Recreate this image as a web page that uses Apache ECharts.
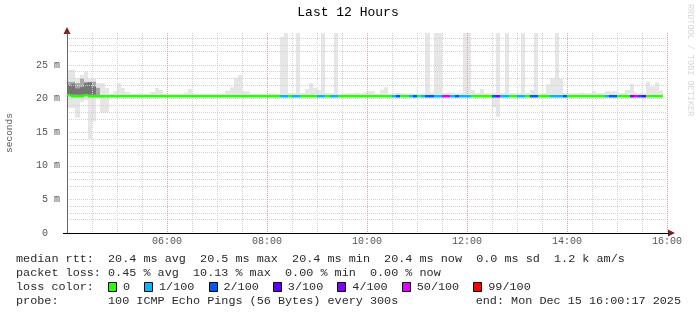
<!DOCTYPE html>
<html><head><meta charset="utf-8">
<script src="https://cdn.jsdelivr.net/npm/echarts@6/dist/echarts.min.js"></script>
<style>html,body{margin:0;padding:0;background:#fff}#c{width:697px;height:315px}</style>
</head><body><div id="c"></div>
<script>
// ---------------- data ----------------
const titleText = 'Last 12 Hours';
const yAxisName = 'seconds';
const xTickMinutes = [120, 240, 360, 480, 600, 720];           // minutes after 04:00
const xTickLabels  = ['06:00', '08:00', '10:00', '12:00', '14:00', '16:00'];
const yTickValues  = [0, 5, 10, 15, 20, 25];                     // ms
const yTickLabels  = ['0', '5 m', '10 m', '15 m', '20 m', '25 m'];
const STEP_MIN = 5;                                              // rrd step, minutes

// median rtt per 5-minute step (ms)
const median = [
 20.6,20.45,20.45,20.45,20.6,20.45,20.45,20.43,20.43,20.43,
 20.43,20.43,20.43,20.43,20.43,20.43,20.43,20.43,20.43,20.43,
 20.43,20.43,20.43,20.43,20.43,20.43,20.43,20.43,20.43,20.43,
 20.43,20.43,20.43,20.43,20.43,20.43,20.43,20.43,20.43,20.43,
 20.43,20.43,20.43,20.43,20.43,20.43,20.43,20.43,20.43,20.43,
 20.43,20.43,20.43,20.43,20.43,20.43,20.43,20.43,20.43,20.43,
 20.43,20.43,20.43,20.43,20.43,20.43,20.43,20.43,20.43,20.43,
 20.43,20.43,20.43,20.43,20.43,20.43,20.43,20.43,20.43,20.43,
 20.43,20.43,20.43,20.43,20.43,20.43,20.43,20.43,20.43,20.43,
 20.43,20.43,20.43,20.43,20.43,20.43,20.43,20.43,20.43,20.43,
 20.43,20.43,20.43,20.43,20.43,20.43,20.43,20.43,20.43,20.43,
 20.43,20.43,20.43,20.43,20.43,20.43,20.43,20.43,20.43,20.43,
 20.43,20.43,20.43,20.43,20.43,20.43,20.43,20.43,20.43,20.43,
 20.43,20.43,20.43,20.43,20.43,20.43,20.43,20.43,20.43,20.43,
 20.43,20.43,20.43
];
// loss colour class per step (index into lossColors)
const loss = [
 0,0,0,0,0,0,0,0,0,0, 0,0,0,0,0,0,0,0,0,0,
 0,0,0,0,0,0,0,0,0,0, 0,0,0,0,0,0,0,0,0,0,
 0,0,0,0,0,0,0,0,0,0, 0,1,1,0,1,1,0,0,0,0,
 1,1,0,1,1,0,0,0,0,0, 0,0,0,0,0,0,0,0,1,2,
 0,0,1,2,0,1,2,2,1,1, 5,5,1,2,1,1,1,0,0,0,
 0,0,2,4,1,1,0,0,1,1, 0,2,2,0,0,0,1,1,1,2,
 0,0,0,0,0,0,0,0,0,1, 2,2,0,0,0,4,5,2,3,0,
 0,0,0
];
// outer smoke (lightest) extent per step (ms)
const smokeHi = [
 24.3,24.3,23.0,23.5,24.0,23.0,23.0,22.3,22.3,21.6,
 20.7,21.1,22.3,21.6,21.0,20.7,20.7,20.8,20.7,20.7,
 21.0,21.6,21.3,20.7,20.7,20.7,20.7,20.7,20.9,21.4,
 20.7,20.7,20.7,20.7,20.7,20.7,20.7,20.7,21.2,21.7,
 23.1,23.5,21.1,21.1,20.7,20.7,20.7,20.7,20.8,20.8,
 20.7,29.2,29.8,20.8,20.8,29.8,20.8,21.4,22.3,21.6,
 21.3,29.8,20.8,20.8,29.8,20.7,20.7,20.8,20.8,20.9,
 20.8,20.9,21.1,21.1,20.7,21.3,21.7,20.7,20.8,20.9,
 20.8,20.7,20.8,20.7,20.7,20.8,29.8,20.9,29.8,29.8,
 20.8,20.9,20.9,20.8,20.8,29.8,29.8,21.3,20.8,21.4,
 20.8,20.8,20.8,29.8,20.8,29.8,20.8,20.8,20.8,29.8,
 20.8,21.3,29.8,20.7,20.8,22.1,23.0,29.8,23.0,20.8,
 20.8,20.8,20.8,20.9,20.8,20.8,21.1,20.8,20.8,21.1,
 21.1,21.1,20.8,20.8,21.3,22.2,20.8,20.8,20.8,22.5,
 21.8,22.4,21.2
];
const smokeLo = [
 18.6,18.6,17.2,19.5,19.8,14.0,16.6,20.1,17.9,17.9,
 20.3,20.3,20.3,20.3,20.3,20.3,20.3,20.3,20.3,20.3,
 20.3,20.3,20.3,20.3,20.3,20.3,20.3,20.3,20.3,20.3,
 20.3,20.3,20.3,20.3,20.3,20.3,20.3,20.3,20.3,20.3,
 20.3,20.3,20.3,20.3,20.3,20.3,20.3,20.3,20.3,20.3,
 20.3,20.3,20.3,20.3,20.3,20.3,20.3,20.3,20.3,20.3,
 20.3,20.3,20.3,20.3,20.3,20.3,20.3,20.3,20.3,20.3,
 20.3,20.3,20.3,20.3,20.3,20.3,20.3,20.3,20.3,20.3,
 20.3,20.3,20.3,20.3,20.3,20.3,20.3,20.3,20.3,20.3,
 20.3,20.3,20.3,20.3,20.3,20.3,20.3,20.3,20.3,20.3,
 20.3,20.3,18.7,17.3,20.3,20.3,20.3,20.3,20.3,20.3,
 20.3,20.3,20.3,20.3,20.3,20.3,20.3,20.3,20.3,20.3,
 20.3,20.3,20.3,20.3,20.3,20.3,20.3,20.3,20.3,20.3,
 20.3,20.3,20.3,20.3,20.3,20.3,20.3,20.3,20.3,20.3,
 20.3,20.3,20.3
];
// denser smoke (first steps only)
const midLo  = [20.5,20.5,20.5,20.5,20.5,20.5,20.5,20.5];
const midHi  = [22.5,22.5,22.3,23.0,22.5,22.5,22.5,21.6];
const darkLo = [20.6,20.6,20.6,20.6,20.6,20.6,20.6];
const darkHi = [22.0,22.2,21.5,21.7,22.3,22.4,21.8];

const lossColors = ['#26ff00','#00b8ff','#0059ff','#5e00ff','#7e00ff','#dd00ff','#ff0000'];
const lossLabels = ['0','1/100','2/100','3/100','4/100','50/100','99/100'];

const legendLine1 = 'median rtt:  20.4 ms avg  20.5 ms max  20.4 ms min  20.4 ms now  0.0 ms sd  1.2 k am/s';
const legendLine2 = 'packet loss: 0.45 % avg  10.13 % max  0.00 % min  0.00 % now';
const legendLine3 = 'loss color:';
const legendLine4 = 'probe:       100 ICMP Echo Pings (56 Bytes) every 300s';
const endText = 'end: Mon Dec 15 16:00:17 2025';
const creditText = 'RRDTOOL / TOBI OETIKER';

// ---------------- chart ----------------
const MONO = "'Liberation Mono','DejaVu Sans Mono',monospace";
const Y_MAX = 29.76;
const GL = 67, GT = 33, GW = 600, GH = 200;

function bands(lo, hi) {
  return lo.map((v, i) => [i * STEP_MIN, v, hi[i]]);
}
function bandRender(color) {
  return function (params, api) {
    const x0 = api.value(0), lo = api.value(1), hi = api.value(2);
    const a = api.coord([x0, hi]);
    const b = api.coord([x0 + STEP_MIN, lo]);
    const xa = Math.round(a[0]), xb = Math.round(b[0]);
    return {type: 'rect', shape: {x: xa, y: a[1], width: xb - xa, height: b[1] - a[1]},
            style: {fill: color}};
  };
}
const medianData = median.map((v, i) => [i * STEP_MIN, v, loss[i]]);

const chart = echarts.init(document.getElementById('c'), null, {renderer: 'canvas'});

const graphics = [];
graphics.push({type: 'text', x: 348, y: 13, style: {text: titleText, font: '13px ' + MONO, fill: '#000', align: 'center', verticalAlign: 'middle'}});
graphics.push({type: 'text', x: 690, y: 4, rotation: -Math.PI / 2,
  style: {text: creditText, font: '8.5px ' + MONO, fill: '#d8d8d8', align: 'left', verticalAlign: 'middle'}});
// axis arrows and extended x axis line
graphics.push({type: 'polygon', shape: {points: [[GL - 3.5, GT + 1], [GL + 3.5, GT + 1], [GL, GT - 6]]}, style: {fill: '#7f1f1f'}});
graphics.push({type: 'polygon', shape: {points: [[GL + GW + 1, GT + GH - 3.5], [GL + GW + 1, GT + GH + 3.5], [GL + GW + 8, GT + GH]]}, style: {fill: '#7f1f1f'}});
graphics.push({type: 'line', shape: {x1: GL - 4, y1: GT + GH + 0.5, x2: GL + GW + 2, y2: GT + GH + 0.5}, style: {stroke: '#000', lineWidth: 1}});

// legend text
const LX = 16, CW = 7.08, LF = '11.8px ' + MONO, LC = '#2a2a2a';
const rows = [259, 273, 287, 301];
graphics.push({type: 'text', x: LX, y: rows[0], style: {text: legendLine1, font: LF, fill: LC, verticalAlign: 'middle'}});
graphics.push({type: 'text', x: LX, y: rows[1], style: {text: legendLine2, font: LF, fill: LC, verticalAlign: 'middle'}});
graphics.push({type: 'text', x: LX, y: rows[2], style: {text: legendLine3, font: LF, fill: LC, verticalAlign: 'middle'}});
graphics.push({type: 'text', x: LX, y: rows[3], style: {text: legendLine4, font: LF, fill: LC, verticalAlign: 'middle'}});
graphics.push({type: 'text', x: 681, y: rows[3], style: {text: endText, font: LF, fill: LC, align: 'right', verticalAlign: 'middle'}});
let col = 13;
lossLabels.forEach((lab, k) => {
  const bx = Math.round(LX + col * CW);
  graphics.push({type: 'rect', shape: {x: bx + 0.5, y: rows[2] - 4.5, width: 8, height: 9},
                 style: {fill: lossColors[k], stroke: '#000', lineWidth: 1}});
  const tc = col + 2.1;
  graphics.push({type: 'text', x: LX + tc * CW, y: rows[2], style: {text: lab, font: LF, fill: LC, verticalAlign: 'middle'}});
  col = tc + lab.length + 2;
});

chart.setOption({
  animation: false,
  backgroundColor: '#ffffff',
  grid: {left: GL, top: GT, width: GW, height: GH, containLabel: false, outerBoundsMode: 'none'},
  xAxis: {
    type: 'value', min: 0, max: 720, interval: 120,
    axisLine: {show: false},
    axisTick: {show: false},
    axisLabel: {margin: 3, color: '#555', fontFamily: MONO, fontSize: 10,
      formatter: v => { const k = xTickMinutes.indexOf(v); return k >= 0 ? xTickLabels[k] : ''; }},
    splitLine: {show: true, showMinLine: false, lineStyle: {color: '#e2a0a0', type: [1, 1], width: 1}},
    minorTick: {show: false, splitNumber: 4},
    minorSplitLine: {show: true, lineStyle: {color: '#d2d2d2', type: [1, 1], width: 1}}
  },
  yAxis: [{
    type: 'value', min: 0, max: Y_MAX, interval: 5,
    name: yAxisName, nameLocation: 'middle', nameGap: 53, nameRotate: 90,
    nameTextStyle: {color: '#555', fontFamily: MONO, fontSize: 9.5},
    axisLine: {show: true, onZero: false, lineStyle: {color: '#666', width: 1}},
    axisTick: {show: false},
    axisLabel: {margin: 7, color: '#555', fontFamily: MONO, fontSize: 10, showMaxLabel: false,
      formatter: v => { const k = yTickValues.indexOf(v); if (k < 0) return ''; const s = yTickLabels[k]; return s.indexOf(' ') < 0 ? s + '  ' : s; }},
    splitLine: {show: true, showMinLine: false, showMaxLine: false, lineStyle: {color: '#e2a0a0', type: [1, 1], width: 1}}
  }, {
    type: 'value', min: 0, max: Y_MAX, interval: 1, position: 'left', offset: 0,
    axisLine: {show: false, onZero: false}, axisTick: {show: false}, axisLabel: {show: false},
    splitLine: {show: true, showMinLine: false, showMaxLine: false,
      lineStyle: {color: ['transparent', '#d2d2d2', '#d2d2d2', '#d2d2d2', '#d2d2d2'], type: [1, 1], width: 1}}
  }],
  series: [
    {type: 'custom', name: 'smoke', z: -1, clip: true, data: bands(smokeLo, smokeHi),
     renderItem: bandRender('#e6e6e6'), encode: {x: 0, y: [1, 2]}},
    {type: 'custom', name: 'smoke2', z: -1, clip: true, data: bands(midLo, midHi),
     renderItem: bandRender('#a8a8a8'), encode: {x: 0, y: [1, 2]}},
    {type: 'custom', name: 'smoke3', z: -1, clip: true, data: bands(darkLo, darkHi),
     renderItem: bandRender('#747474'), encode: {x: 0, y: [1, 2]}},
    {type: 'custom', name: 'median', z: 5, clip: true, data: medianData,
     encode: {x: 0, y: 1},
     renderItem: function (params, api) {
       const x0 = api.value(0), v = api.value(1), c = api.value(2);
       const a = api.coord([x0, v]), b = api.coord([x0 + STEP_MIN, v]);
       const xa = Math.round(a[0]), xb = Math.round(b[0]);
       return {type: 'rect', shape: {x: xa, y: Math.round(a[1]) - 1, width: xb - xa, height: 2.5},
               style: {fill: lossColors[c]}};
     }}
  ],
  graphic: graphics
});
</script>
</body></html>
